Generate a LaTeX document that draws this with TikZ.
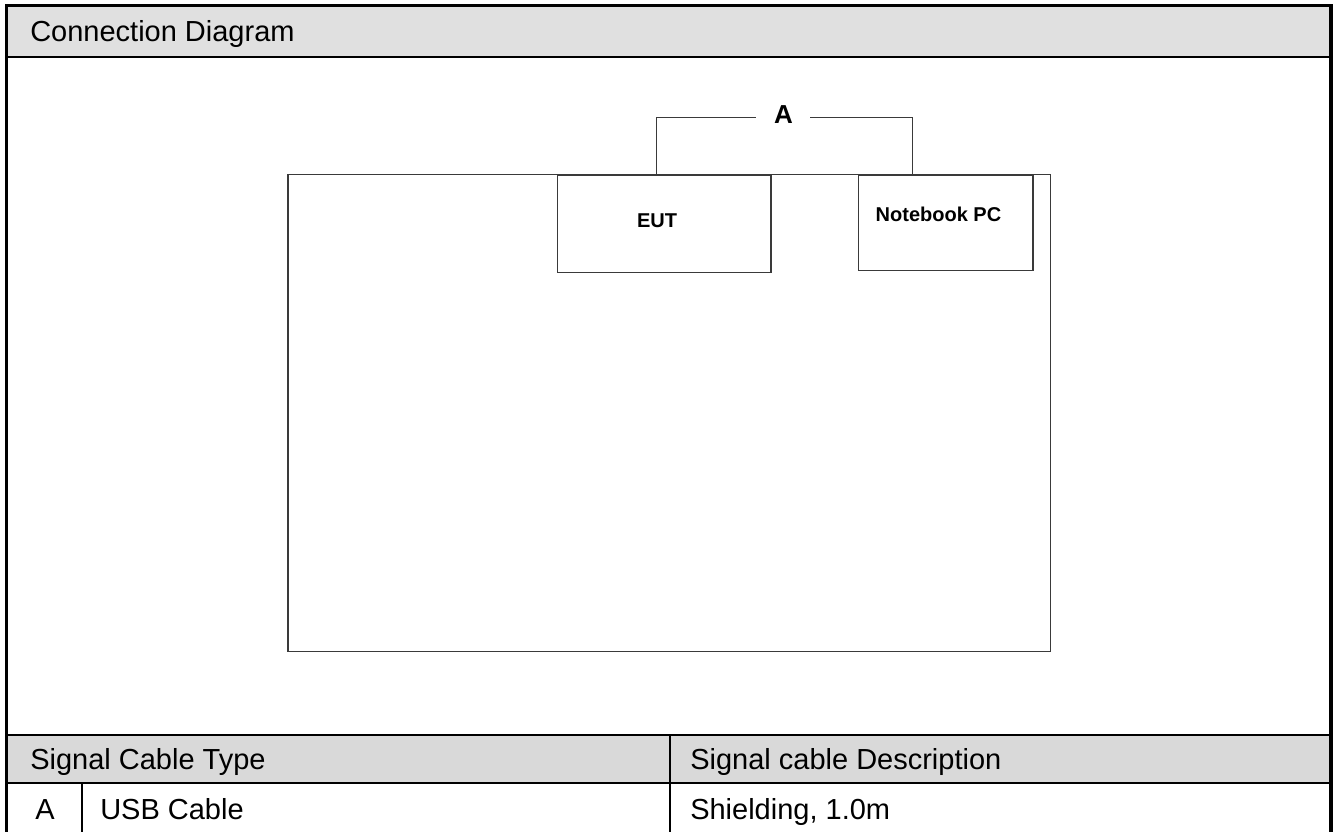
\documentclass[tikz,border=0pt]{standalone}
\usepackage{fontspec}
\setmainfont{Liberation Sans}
\definecolor{hdrgray}{HTML}{E0E0E0}
\definecolor{thdgray}{HTML}{D9D9D9}
\definecolor{linegray}{HTML}{3A3A3A}
\begin{document}
\begin{tikzpicture}[x=0.75pt,y=-0.75pt,
  frame/.style={line width=2.4pt, black},
  rule/.style={line width=1.6pt, black},
  txt/.style={font=\fontsize{21.75}{26}\selectfont, inner sep=0pt, anchor=base west},
  box/.style={draw=linegray, line width=1.1pt, inner sep=0pt, anchor=north west},
  blabel/.style={font=\bfseries\fontsize{15}{18}\selectfont, inner sep=0pt},
  cable/.style={draw=linegray, line width=1.1pt}]
\useasboundingbox (0,0) rectangle (1336,832);
% fills
\fill[hdrgray] (6,6) rectangle (1331,57);
\fill[thdgray] (6,735) rectangle (1331,783);
% rules
\draw[rule] (6,57) -- (1331,57);
\draw[rule] (6,735) -- (1331,735);
\draw[rule] (6,783) -- (1331,783);
\draw[rule] (670,735) -- (670,840);
\draw[rule] (82,783) -- (82,840);
% outer frame
\draw[frame] (6.5,840) -- (6.5,5.5) -- (1331,5.5) -- (1331,840);
% texts
\node[txt] (title) at (30,41.7) {Connection Diagram};
\node[txt] (hType) at (30,769) {Signal Cable Type};
\node[txt] (hDesc) at (690,769) {Signal cable Description};
\node[txt,anchor=base] (rA) at (45,819) {A};
\node[txt] (rType) at (100,819) {USB Cable};
\node[txt] (rDesc) at (690,819) {Shielding, 1.0m};
% diagram
\node[box, minimum width=572pt, minimum height=357.75pt] (room) at (287.3,174) {};
\node[box, minimum width=160pt, minimum height=72.75pt] (eut) at (556.7,175) {};
\node[box, minimum width=131pt, minimum height=71.25pt] (nb) at (857.7,175) {};
\node[blabel] (eutL) at (657,221) {EUT};
\node[blabel] (nbL) at (938.5,214.5) {Notebook PC};
\node[font=\bfseries\fontsize{19.5}{22}\selectfont, inner sep=0pt,
      minimum width=40pt, text height=14.25pt, text depth=4.25pt] (lblA) at (783.4,117.3) {A};
\draw[cable] (eut.north west) ++(100,0) |- (lblA.west);
\draw[cable] (nb.north west) ++(55,0) |- (lblA.east);
\end{tikzpicture}
\end{document}
